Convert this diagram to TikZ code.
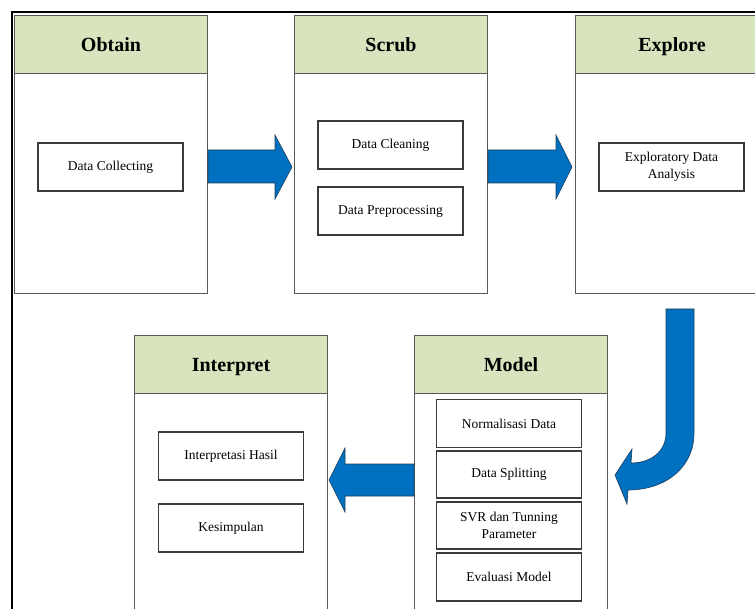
\documentclass[tikz,border=0pt]{standalone}
\usepackage{fontspec}
\setmainfont{Liberation Serif}
\definecolor{hdr}{HTML}{D7E4BD}
\definecolor{arr}{HTML}{0070C0}
\definecolor{arrline}{HTML}{1F3D5C}
\definecolor{boxline}{HTML}{595959}
\definecolor{itemline}{HTML}{3A3A3A}
\begin{document}
\begin{tikzpicture}[x=1pt,y=-1pt,
  stage/.style={draw=boxline, line width=1pt, fill=white, anchor=north west, inner sep=0pt, minimum width=193pt},
  header/.style={draw=boxline, line width=1pt, fill=hdr, anchor=north west, inner sep=0pt, minimum width=193pt, minimum height=58pt, text height=16pt, text depth=2pt, font=\bfseries\fontsize{20}{23}\selectfont},
  item/.style={draw=itemline, line width=1.2pt, fill=white, inner sep=0pt, minimum width=145pt, minimum height=48pt, align=center, font=\fontsize{13.5}{16.5}\selectfont},
  blockarrow/.style={fill=arr, draw=arrline, line width=0.6pt, line join=miter},
  frameline/.style={line width=2.4pt, black}]
\useasboundingbox (0,0) rectangle (755,609);
\clip (0,0) rectangle (755,609);
\fill[white] (0,0) rectangle (755,609);
% frame
\coordinate (frTR) at (756,12);
\coordinate (frTL) at (12,12);
\coordinate (frBL) at (12,610);
\draw[frameline] (frTR) -- (frTL) -- (frBL);
% stages top row
\node[stage, minimum height=278pt] (obtain) at (14,15) {};
\node[header] (obtainH) at (obtain.north west) {Obtain};
\node[stage, minimum height=278pt] (scrub) at (294,15) {};
\node[header] (scrubH) at (scrub.north west) {Scrub};
\node[stage, minimum height=278pt] (explore) at (575,15) {};
\node[header] (exploreH) at (explore.north west) {Explore};
% stages bottom row
\node[stage, minimum height=300pt] (interpret) at (134,335) {};
\node[header] (interpretH) at (interpret.north west) {Interpret};
\node[stage, minimum height=300pt] (model) at (414,335) {};
\node[header] (modelH) at (model.north west) {Model};
% items
\node[item] (dc) at (110.5,167) {Data Collecting};
\node[item] (dcl) at (390.5,145) {Data Cleaning};
\node[item] (dp) at (390.5,211) {Data Preprocessing};
\node[item] (eda) at (671.5,167) {Exploratory Data\\Analysis};
\node[item] (nd) at (509,423.5) {Normalisasi Data};
\node[item, minimum height=47pt] (ds) at (509,474.5) {Data Splitting};
\node[item, minimum height=47pt] (svr) at (509,525.5) {SVR dan Tunning\\Parameter};
\node[item] (em) at (509,577) {Evaluasi Model};
\node[item] (ih) at (231,456) {Interpretasi Hasil};
\node[item] (ks) at (231,528) {Kesimpulan};
% block arrows
\draw[blockarrow] (obtain.east |- 0,150) -- (275,150) -- (275,135) -- (292,167) -- (275,199) -- (275,183) -- (obtain.east |- 0,183) -- cycle;
\draw[blockarrow] (scrub.east |- 0,150) -- (556,150) -- (556,135) -- (572,167) -- (556,199) -- (556,183) -- (scrub.east |- 0,183) -- cycle;
\draw[blockarrow] (666,309) -- (694,309) -- (694,433) .. controls (694,468) and (665,490) .. (628,490) -- (627,504) -- (615,475) -- (632,449) -- (631,463) .. controls (650,463) and (666,452) .. (666,433) -- cycle;
\draw[blockarrow] (model.west |- 0,464) -- (345,464) -- (345,448) -- (329,480) -- (345,512) -- (345,496) -- (model.west |- 0,496) -- cycle;
\end{tikzpicture}
\end{document}
